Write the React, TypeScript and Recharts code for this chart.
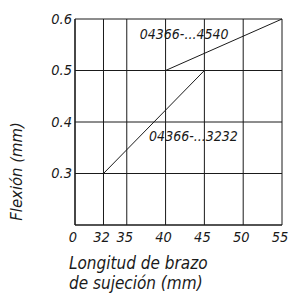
import React from 'react';
import { LineChart, Line, XAxis, YAxis, CartesianGrid, ReferenceDot } from 'recharts';

// Axis break: the "0" origin sits at this value on the broken x axis
const xOrigin = 28.33;
const xTickValues = [xOrigin, 32, 35, 40, 45, 50, 55];
const xTickLabels = ['0', '32', '35', '40', '45', '50', '55'];
const yTickValues = [0.3, 0.4, 0.5, 0.6];
const yTickLabels = ['0.3', '0.4', '0.5', '0.6'];

const series3232X = [32, 45];
const series3232Y = [0.3, 0.5];
const series4540X = [40, 55];
const series4540Y = [0.5, 0.6];

const seriesNames = ['04366-...3232', '04366-...4540'];
const labelX = [43.59, 42.39];
const labelY = [0.3728, 0.5709];

const xTitleLines = ['Longitud de brazo', 'de sujeción (mm)'];
const yTitle = 'Flexión (mm)';

const data3232 = series3232X.map((x, i) => ({ x, y: series3232Y[i] }));
const data4540 = series4540X.map((x, i) => ({ x, y: series4540Y[i] }));

const FONT = '"DejaVu Sans Condensed", "DejaVu Sans", sans-serif';
const INK = '#1a1a1a';
const textStyle: React.CSSProperties = { fontStretch: 'condensed' };

const XTick = (props: any) => {
  const { x, y, payload } = props;
  const i = xTickValues.indexOf(payload.value);
  return (
    <text x={x - 2} y={y + 15} textAnchor="middle" fontFamily={FONT} fontStyle="italic" fontSize={14.5} fill={INK} style={textStyle}>
      {xTickLabels[i] ?? String(payload.value)}
    </text>
  );
};

const YTick = (props: any) => {
  const { y, payload } = props;
  const i = yTickValues.indexOf(payload.value);
  return (
    <text x={72} y={y + 4.5} textAnchor="end" fontFamily={FONT} fontStyle="italic" fontSize={14.5} fill={INK} style={textStyle}>
      {yTickLabels[i] ?? String(payload.value)}
    </text>
  );
};

const XLabel = () => (
  <text fontFamily={FONT} fontStyle="italic" fontSize={17} fill={INK} style={textStyle}>
    <tspan x={69} y={269}>{xTitleLines[0]}</tspan>
    <tspan x={69} y={289}>{xTitleLines[1]}</tspan>
  </text>
);

const YLabel = () => (
  <text
    x={22}
    y={171.5}
    transform="rotate(-90 22 171.5)"
    textAnchor="middle"
    fontFamily={FONT}
    fontStyle="italic"
    fontSize={16.5}
    fill={INK}
    style={textStyle}
  >
    {yTitle}
  </text>
);

export default function App() {
  return (
    <div style={{ position: 'absolute', left: 0, top: 0, width: 289, height: 293, background: '#fff' }}>
      <LineChart width={289} height={293} margin={{ top: 19, right: 7, bottom: 0, left: 0 }}>
        <CartesianGrid stroke={INK} strokeWidth={1} />
        <XAxis
          type="number"
          dataKey="x"
          domain={[xOrigin, 55]}
          ticks={xTickValues}
          interval={0}
          allowDataOverflow
          height={68}
          tickLine={false}
          tickSize={0}
          axisLine={{ stroke: INK, strokeWidth: 1.2 }}
          tick={<XTick />}
          label={<XLabel />}
        />
        <YAxis
          type="number"
          domain={[0.2, 0.6]}
          ticks={yTickValues}
          interval={0}
          width={75}
          tickLine={false}
          tickSize={0}
          axisLine={{ stroke: INK, strokeWidth: 1.2 }}
          tick={<YTick />}
          label={<YLabel />}
        />
        <Line data={data3232} dataKey="y" stroke={INK} strokeWidth={1} dot={false} isAnimationActive={false} />
        <Line data={data4540} dataKey="y" stroke={INK} strokeWidth={1} dot={false} isAnimationActive={false} />
        {seriesNames.map((name, i) => (
          <ReferenceDot
            key={name}
            x={labelX[i]}
            y={labelY[i]}
            r={0}
            fill="none"
            stroke="none"
            label={{
              value: name,
              position: 'center',
              fontFamily: FONT,
              fontStyle: 'italic',
              fontSize: 14,
              fill: INK,
              style: textStyle,
            }}
          />
        ))}
      </LineChart>
    </div>
  );
}
